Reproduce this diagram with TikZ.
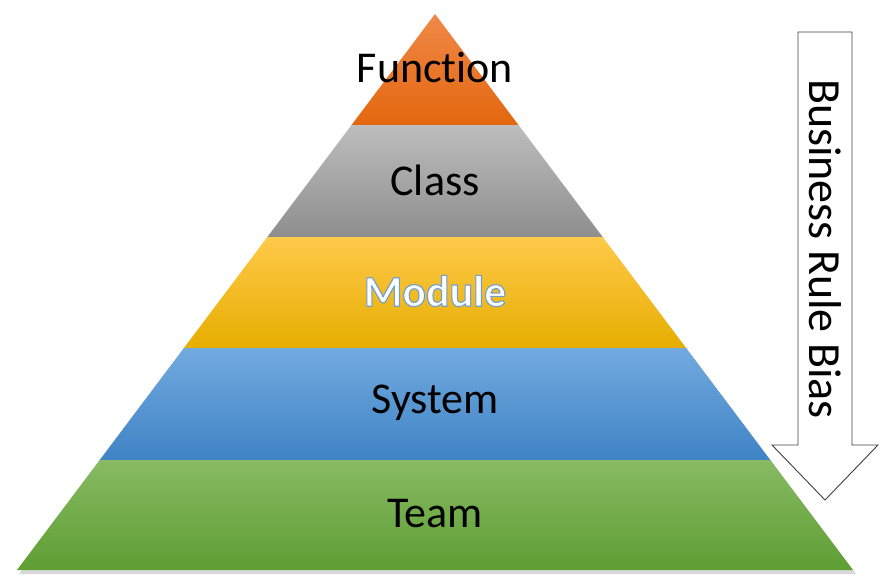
\documentclass[tikz,border=0pt]{standalone}
\usepackage{fontspec}
\setmainfont{Carlito}[Ligatures=NoCommon]
\usetikzlibrary{shadows,calc}
\definecolor{orT}{HTML}{F28C4E}
\definecolor{orB}{HTML}{E3670F}
\definecolor{grT}{HTML}{BDBDBD}
\definecolor{grB}{HTML}{8E8E8E}
\definecolor{yeT}{HTML}{FFC94A}
\definecolor{yeM}{HTML}{FFC000}
\definecolor{yeB}{HTML}{E6AE00}
\definecolor{blT}{HTML}{72AADF}
\definecolor{blB}{HTML}{3F83C5}
\definecolor{gnT}{HTML}{88BA63}
\definecolor{gnB}{HTML}{5E9E33}
\newcommand\outlinetext[1]{{%
  \color{white}%
  \special{pdf:literal direct 2 Tr 1.1 w 1 j 0.42 0.62 0.84 RG}%
  #1%
  \special{pdf:literal direct 0 Tr 0.4 w}}}
\tikzset{
  lbl/.style={font=\fontsize{44}{50}\selectfont, text=black, inner sep=0pt, anchor=center},
  arrowshape/.style={draw=black!75, line width=0.9pt, fill=white, line join=miter}
}
\begin{document}
\begin{tikzpicture}[x=1pt,y=-1pt]
\useasboundingbox (0,0) rectangle (888,587);
% pyramid shadow
\fill[black!25, opacity=0.6] (437,17) -- (856,574) -- (19,574) -- cycle;
\begin{scope}
\clip (435,14) -- (853,570) -- (17,570) -- cycle;
\shade[top color=orT, bottom color=orB] (0,0) rectangle (888,125);
\shade[top color=grT, bottom color=grB] (0,125) rectangle (888,237);
\shade[top color=yeT, middle color=yeM, bottom color=yeB] (0,237) rectangle (888,348);
\shade[top color=blT, bottom color=blB] (0,348) rectangle (888,460);
\shade[top color=gnT, bottom color=gnB] (0,460) rectangle (888,570);
\end{scope}
% labels
\node[lbl] (fn) at (435,68) {Function};
\node[lbl] (cl) at (435,180) {Class};
\node[lbl] (md) at (435,291) {\bfseries\outlinetext{Module}};
\node[lbl] (sy) at (435,403) {System};
\node[lbl] (tm) at (435,514) {Team};
% arrow
\draw[arrowshape] (798,32) -- (852,32) -- (852,445) -- (878,445) -- (825,500) -- (772,445) -- (798,445) -- cycle;
\node[lbl, font=\fontsize{46}{52}\selectfont, rotate=-90] (br) at (825,249) {Business Rule Bias};
\end{tikzpicture}
\end{document}
